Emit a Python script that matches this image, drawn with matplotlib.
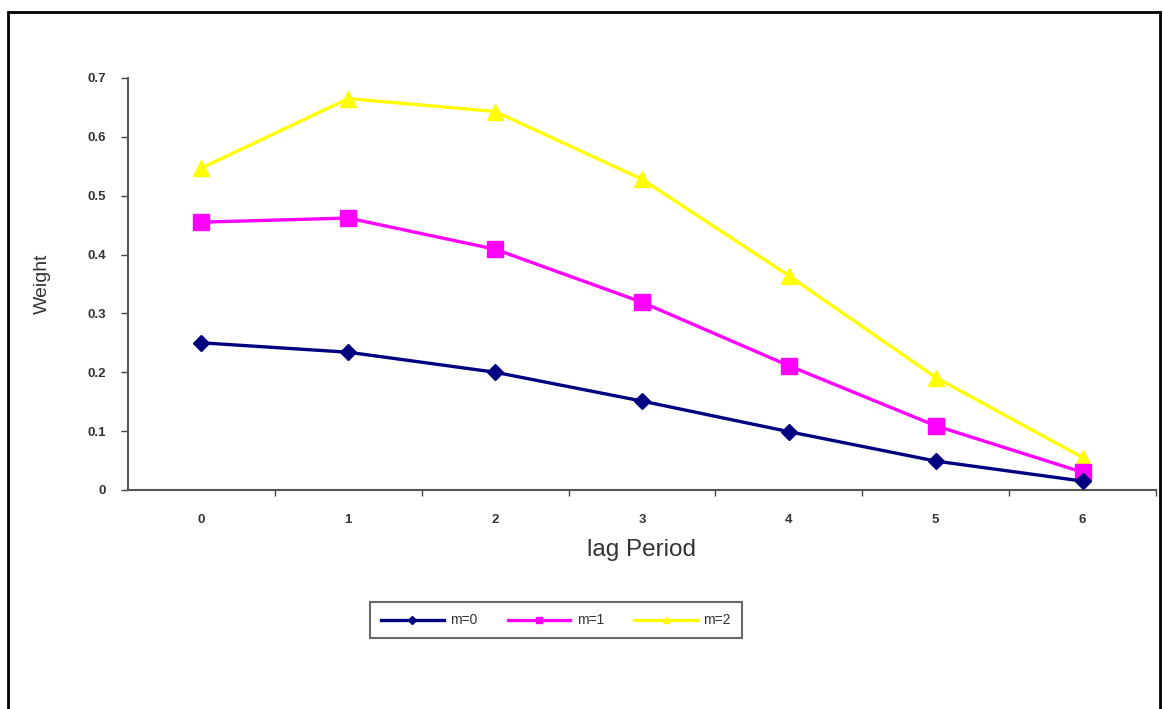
import matplotlib
matplotlib.use('Agg')
import matplotlib.pyplot as plt
from matplotlib.patches import Rectangle

plt.rcParams['font.family'] = ['Liberation Sans', 'DejaVu Sans']

lags = [0, 1, 2, 3, 4, 5, 6]
m0 = [0.250, 0.234, 0.200, 0.151, 0.099, 0.049, 0.015]
m1 = [0.455, 0.462, 0.409, 0.319, 0.211, 0.109, 0.030]
m2 = [0.547, 0.665, 0.643, 0.528, 0.364, 0.191, 0.055]
yticks = [0, 0.1, 0.2, 0.3, 0.4, 0.5, 0.6, 0.7]

fig = plt.figure(figsize=(11.63, 7.09), dpi=100)
ax = fig.add_axes([0.110, 0.309, 0.884, 0.581])

ax.plot(lags, m0, color='#000080', lw=2.4, marker='D', ms=8, label='m=0', zorder=3)
ax.plot(lags, m1, color='#ff00ff', lw=2.4, marker='s', ms=11, label='m=1', zorder=2)
ax.plot(lags, m2, color='#ffff00', lw=2.4, marker='^', ms=11, label='m=2', zorder=1)

ax.set_xlim(-0.5, 6.5)
ax.set_ylim(0, 0.7)
ax.set_yticks(yticks)
ax.set_yticklabels(['0', '0.1', '0.2', '0.3', '0.4', '0.5', '0.6', '0.7'])
ax.set_xticks(lags)
ax.set_xticks([x + 0.5 for x in lags], minor=True)
ax.tick_params(axis='x', which='major', length=0, labelsize=9.5, pad=17)
ax.tick_params(axis='x', which='minor', length=4, width=1, colors='#444444')
ax.tick_params(axis='y', length=5, width=1, labelsize=9.5, pad=11, colors='#444444')
for lbl in ax.get_xticklabels() + ax.get_yticklabels():
    lbl.set_color('#333333')
    lbl.set_fontweight('bold')

for side in ['top', 'right']:
    ax.spines[side].set_visible(False)
for side in ['left', 'bottom']:
    ax.spines[side].set_color('#555555')
    ax.spines[side].set_linewidth(1.5)

ax.set_xlabel('lag Period', fontsize=17.5, color='#333333', labelpad=10)
ax.set_ylabel('Weight', fontsize=14, color='#333333', labelpad=26)

leg = fig.legend(loc='center', bbox_to_anchor=(0.478, 0.125), ncol=3,
                 prop={'size': 10},
                 markerscale=0.45, handlelength=4.5, handletextpad=0.45,
                 columnspacing=2.2, fancybox=False, edgecolor='#444444',
                 borderpad=0.8, borderaxespad=0)
leg.get_frame().set_linewidth(1.5)
for t in leg.get_texts():
    t.set_color('#333333')

# outer frame
fig.patches.append(Rectangle((8 / 1163, -0.05), 1152 / 1163, 1.05 - 12 / 709,
                             transform=fig.transFigure, fill=False,
                             edgecolor='black', lw=2))

fig.savefig('out.png', dpi=100)
